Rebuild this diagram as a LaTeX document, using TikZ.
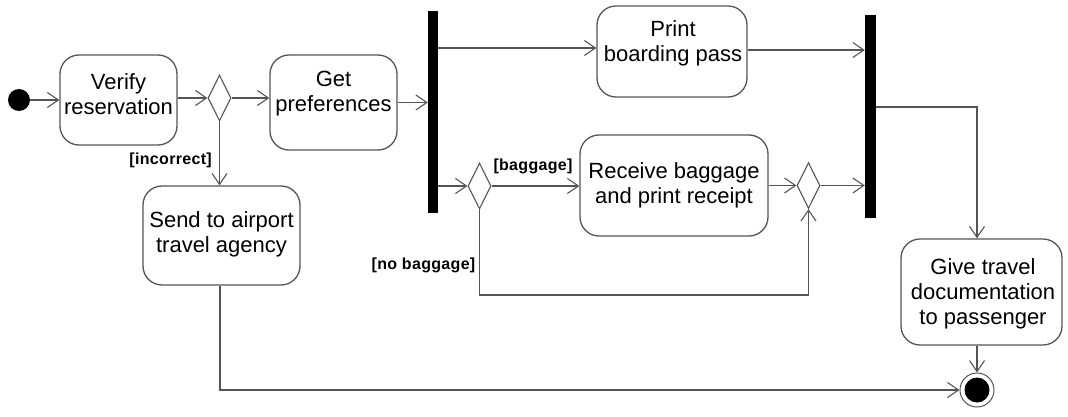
\documentclass[tikz,border=0pt]{standalone}
\usepackage{fontspec}
\setmainfont{Liberation Sans}
\newfontfamily\lblfont[LetterSpace=2]{Liberation Sans}
\usetikzlibrary{arrows.meta,shapes.geometric,calc}
\definecolor{ln}{RGB}{85,85,85}
\tikzset{
  act/.style={draw=ln, line width=1.3pt, rounded corners=19pt, inner sep=0pt},
  txt/.style={align=center, font=\fontsize{22}{25}\selectfont, inner sep=0pt},
  dec/.style={draw=ln, line width=1.1pt, shape=diamond, inner sep=0pt, minimum width=23pt, minimum height=46pt},
  bar/.style={fill=black, draw=none, inner sep=0pt},
  flow/.style={draw=ln, line width=1.3pt, -{Straight Barb[length=11pt,width=15pt,line width=1.1pt]}},
  guard/.style={font=\lblfont\bfseries\fontsize{16}{18}\selectfont, inner sep=0pt},
}
\begin{document}
\begin{tikzpicture}[x=1pt,y=-1pt]
\useasboundingbox (0,0) rectangle (1068,417);
% initial and final
\node[circle, fill=black, inner sep=0pt, minimum size=22pt] (init) at (19,100) {};
\node[circle, draw=ln, line width=1pt, fill=white, inner sep=0pt, minimum size=34pt] (final) at (977,390) {};
\node[circle, fill=black, inner sep=0pt, minimum size=25pt] (finalin) at (977,390) {};
% activities
\node[act, minimum width=117pt, minimum height=90pt] (verify) at (118.5,100) {};
\node[txt] (verifyt) at (118.5,94) {Verify\\reservation};
\node[act, minimum width=127pt, minimum height=95pt] (get) at (333.5,102.5) {};
\node[txt] (gett) at (333.5,94) {Get\\preferences};
\node[act, minimum width=157pt, minimum height=99pt] (send) at (221.5,235.5) {};
\node[txt] (sendt) at (221.5,234) {Send to airport\\travel agency};
\node[act, minimum width=150pt, minimum height=91pt] (print) at (672,51.5) {};
\node[txt] (printt) at (673,43) {Print\\boarding pass};
\node[act, minimum width=188pt, minimum height=101pt] (receive) at (674,185.5) {};
\node[txt] (receivet) at (674,185) {Receive baggage\\and print receipt};
\node[act, minimum width=161pt, minimum height=106pt] (give) at (981.5,292) {};
\node[txt] (givet) at (983,294) {Give travel\\documentation\\to passenger};
% decisions
\node[dec] (d1) at (219.5,98) {};
\node[dec] (d2) at (479.5,186) {};
\node[dec] (d3) at (808.5,185.5) {};
% fork / join bars
\node[bar, minimum width=10pt, minimum height=202pt] (fork) at (433,112) {};
\node[bar, minimum width=11pt, minimum height=203pt] (join) at (870.5,116.5) {};
% flows
\draw[flow] (init.east) -- (init.east -| verify.west);
\draw[flow] (d1.west -| verify.east) -- (d1.west);
\draw[flow] (d1.east) -- (d1.east -| get.west);
\draw[flow] (get.east) -- (get.east -| fork.west);
\draw[flow] (d1.south) -- (d1.south |- send.north);
\draw[flow] (fork.east |- 0,48) -- (print.west |- 0,48);
\draw[flow] (print.east |- 0,50) -- (join.west |- 0,50);
\draw[flow] (fork.east |- d2.west) -- (d2.west);
\draw[flow] (d2.east) -- (d2.east -| receive.west);
\draw[flow] (receive.east |- d3.west) -- (d3.west);
\draw[flow] (d3.east) -- (d3.east -| join.west);
\draw[flow] (d2.south) -- (d2.south |- 0,295) -| (d3.south);
\draw[flow] (join.east |- 0,107) -| (final |- give.north);
\draw[flow] (final |- give.south) -- (final.north);
\draw[flow] (send.south -| 220,0) |- (final.west);
% guards
\node[guard, anchor=east] (gincorrect) at (212,160) {[incorrect]};
\node[guard] (gbaggage) at (533,166) {[baggage]};
\node[guard] (gnobaggage) at (423.5,265.5) {[no baggage]};
\end{tikzpicture}
\end{document}
